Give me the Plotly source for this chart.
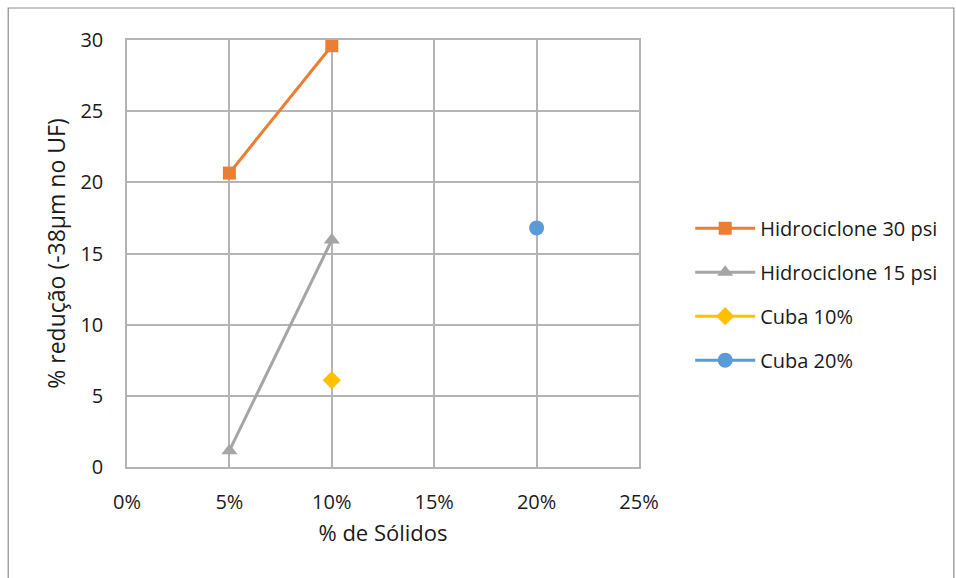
import plotly.graph_objects as go

# Solids fraction (x) and % reduction of -38 µm in the underflow (y)
hc30_x = [0.05, 0.10]
hc30_y = [20.65, 29.6]
hc15_x = [0.05, 0.10]
hc15_y = [1.15, 15.95]
cuba10_x = [0.10]
cuba10_y = [6.1]
cuba20_x = [0.20]
cuba20_y = [16.8]

series_names = ["Hidrociclone 30 psi", "Hidrociclone 15 psi", "Cuba 10%", "Cuba 20%"]

FONT = "Open Sans"
GRID = "#b4b4b4"

fig = go.Figure()
fig.add_trace(go.Scatter(
    x=hc30_x, y=hc30_y, name=series_names[0], legendgroup="g1", mode="lines+markers",
    line=dict(color="#ed7d31", width=3),
    marker=dict(symbol="square", size=13, color="#ed7d31"),
))
fig.add_trace(go.Scatter(
    x=hc15_x, y=hc15_y, name=series_names[1], legendgroup="g2", mode="lines+markers",
    line=dict(color="#a5a5a5", width=3),
    marker=dict(symbol="triangle-up", size=14, color="#a5a5a5"),
))
fig.add_trace(go.Scatter(
    x=cuba10_x, y=cuba10_y, name=series_names[2], legendgroup="g3", mode="lines+markers",
    line=dict(color="#ffc000", width=3),
    marker=dict(symbol="diamond", size=14, color="#ffc000"),
))
fig.add_trace(go.Scatter(
    x=cuba20_x, y=cuba20_y, name=series_names[3], legendgroup="g4", mode="lines+markers",
    line=dict(color="#5b9bd5", width=3),
    marker=dict(symbol="circle", size=15, color="#5b9bd5"),
))

fig.update_layout(
    width=956, height=578,
    margin=dict(l=127, r=317, t=40, b=111),
    paper_bgcolor="white", plot_bgcolor="white",
    font=dict(family=FONT, size=20, color="#1a1a1a"),
    xaxis=dict(
        range=[0, 0.25], dtick=0.05, tickformat=".0%",
        showgrid=True, gridcolor=GRID, gridwidth=1.5,
        showline=True, linecolor=GRID, linewidth=1.5, mirror=True,
        zeroline=False, ticks="", ticklen=0, ticklabelstandoff=16,
        tickfont=dict(size=20),
        title=dict(text="% de Sólidos", font=dict(size=22), standoff=12),
    ),
    yaxis=dict(
        range=[0, 30], dtick=5,
        showgrid=True, gridcolor=GRID, gridwidth=1.5,
        showline=True, linecolor=GRID, linewidth=1.5, mirror=True,
        zeroline=False, ticks="", ticklen=0, ticklabelstandoff=18,
        tickfont=dict(size=20),
        title=dict(text="% redução (-38µm no UF)", font=dict(size=23), standoff=8),
    ),
    legend=dict(
        x=1.1, y=0.605, xanchor="left", yanchor="top",
        font=dict(size=20), tracegroupgap=15, itemwidth=60,
        bgcolor="rgba(0,0,0,0)",
    ),
    shapes=[dict(
        type="rect", xref="paper", yref="paper",
        x0=-0.232, x1=1.615, y0=-0.3, y1=1.075,
        line=dict(color="#8c8c8c", width=1.2), layer="below",
    )],
)

fig.write_html("out.html")
